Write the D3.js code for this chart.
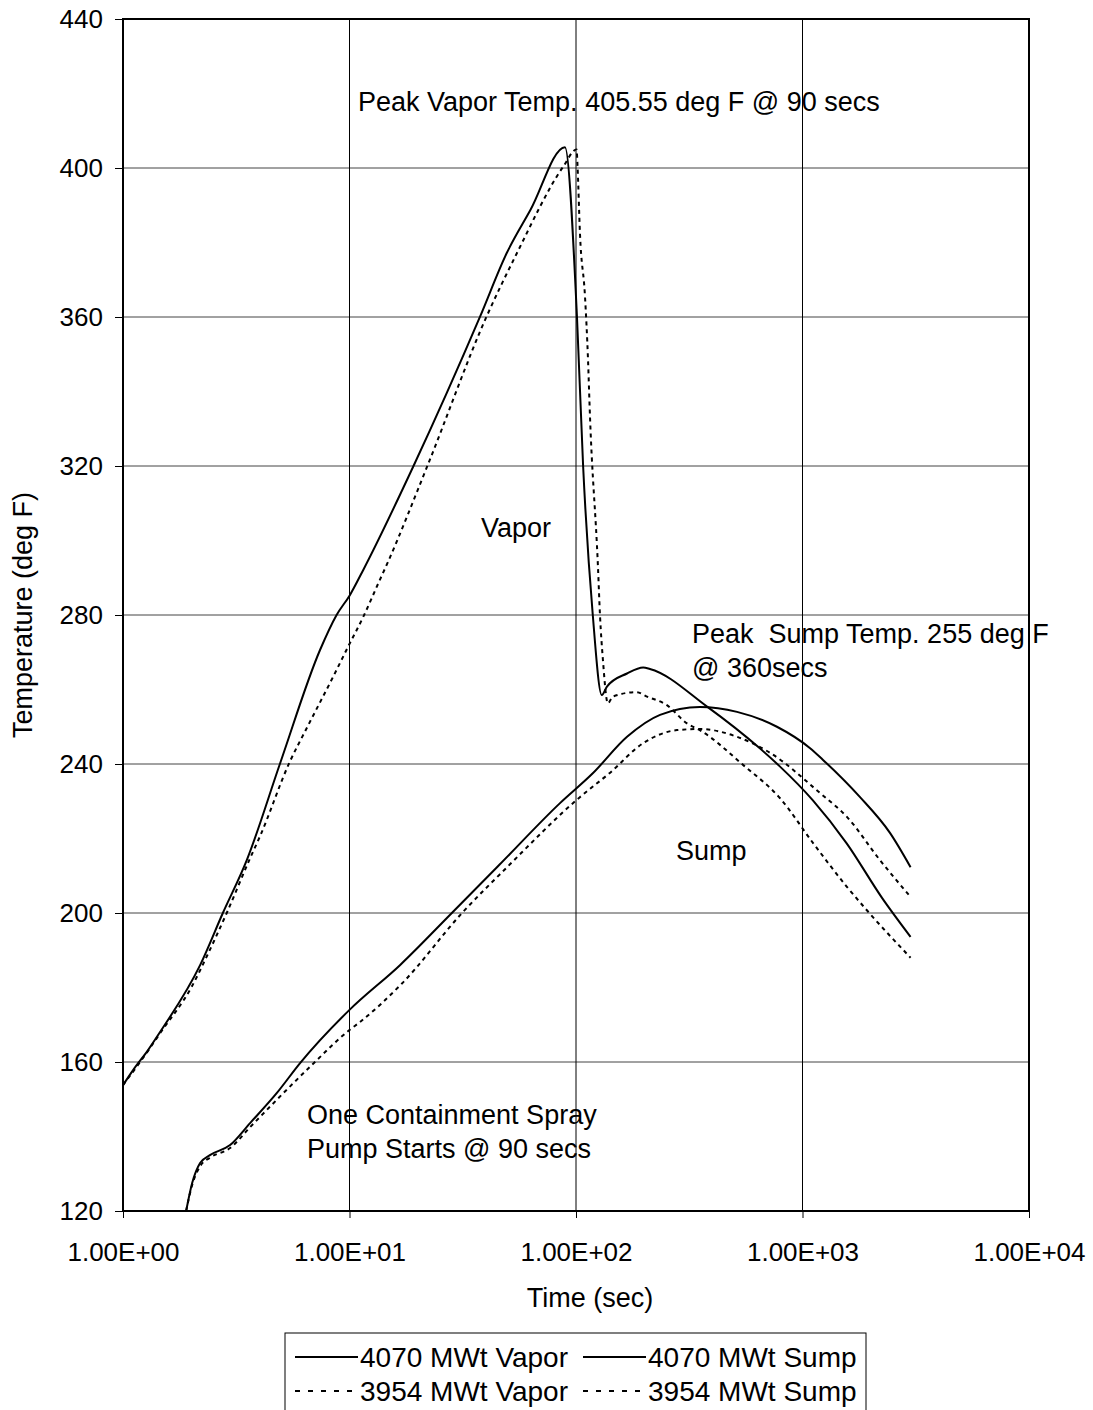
<!DOCTYPE html>
<html>
<head>
<meta charset="utf-8">
<script src="https://cdn.jsdelivr.net/npm/d3@7"></script>
<style>
  html, body { margin: 0; padding: 0; background: #fff; }
  svg { display: block; }
  text { font-family: "Liberation Sans", Arial, sans-serif; fill: #000; }
</style>
</head>
<body>
<svg id="chart" width="1093" height="1410"></svg>
<script>
// Containment temperature response, time (sec) vs temperature (deg F)
const vapor4070 = [
  [1, 153.8], [1.11, 157.9], [1.29, 163.2], [1.46, 168.1], [2.19, 186], [2.76, 200],
  [3.52, 214.2], [4.94, 240.2], [7.41, 270.6], [8.77, 280], [10.05, 285.4], [11.5, 292.1],
  [19.1, 319.8], [37.7, 360.1], [49.4, 377.1], [62.9, 388.7], [89.4, 405.6], [101, 360],
  [107.5, 320], [118.6, 280], [130, 258.5], [137, 260.8], [168, 264.3], [198, 265.9],
  [212, 265.5], [379, 255.4], [648, 244.2], [796, 239.3], [1109, 230.3], [1567, 218.7],
  [2248, 204], [3000, 193.6]
];
const vapor3954 = [
  [1, 153.8], [1.29, 163], [1.457, 167.7], [2.01, 180.2], [2.38, 189.2], [2.87, 200],
  [3.64, 214.7], [4.02, 220.5], [5.45, 240.6], [6.47, 249.6], [8.48, 263.5], [9.86, 271.5],
  [11.5, 279.5], [13.4, 288.5], [14.8, 294.3], [22, 319.8], [40.2, 360], [54.8, 377.1],
  [87.7, 400.3], [100.6, 405], [101.6, 400.3], [104.1, 382.5], [109.6, 365.4], [113, 348.5],
  [115, 335], [125, 293], [127.6, 280], [131.5, 267.9], [138.3, 256.3], [145.4, 258.1],
  [185, 259.3], [205.8, 258.1], [252, 255.8], [309, 250.9], [352, 249.1], [548, 239.7],
  [796, 230.8], [1116, 218.7], [1567, 207.1], [1920, 200.8], [3000, 188]
];
const sump4070 = [
  [1.9, 120], [2.02, 127.5], [2.19, 132.9], [2.42, 135], [2.97, 137.7], [3.64, 143.6],
  [4.78, 151.7], [6.05, 159.7], [10, 174], [16.7, 186], [28.3, 200], [46, 213],
  [85, 229.5], [118.6, 237.5], [168, 247.3], [235, 253.2], [352, 255.3], [514, 254],
  [771, 250], [1077, 244.3], [1232, 241.1], [1795, 231.1], [2433, 221.5], [3000, 212.3]
];
const sump3954 = [
  [1.9, 120], [2.02, 127], [2.19, 132], [2.42, 134.3], [2.97, 136.9], [3.64, 142.5],
  [6.69, 158.7], [10, 168.6], [11.1, 170.7], [17, 181], [31.4, 200], [50, 212.5],
  [104, 231.1], [141, 237.6], [198, 245.6], [279, 249.1], [352, 249.4], [514, 247.3],
  [719, 243], [1195, 232.2], [1571, 225.8], [2198, 214.2], [3000, 204.3]
];
const yTicks = [120, 160, 200, 240, 280, 320, 360, 400, 440];
const xTicks = [1, 10, 100, 1000, 10000];
const xTickLabels = ["1.00E+00", "1.00E+01", "1.00E+02", "1.00E+03", "1.00E+04"];
const seriesNames = ["4070 MWt Vapor", "4070 MWt Sump", "3954 MWt Vapor", "3954 MWt Sump"];

const svg = d3.select("#chart");
const plotL = 123, plotR = 1029, plotT = 19, plotB = 1211;
const FONT = "27px";

const x = d3.scaleLog().domain([1, 1e4]).range([plotL, plotR]);
const y = d3.scaleLinear().domain([120, 440]).range([plotB, plotT]);

// gridlines
svg.append("g").selectAll("line").data(yTicks.slice(1, -1)).join("line")
  .attr("x1", plotL).attr("x2", plotR)
  .attr("y1", d => y(d)).attr("y2", d => y(d))
  .attr("stroke", "#444").attr("stroke-width", 1);
svg.append("g").selectAll("line").data(xTicks.slice(1, -1)).join("line")
  .attr("y1", plotT).attr("y2", plotB)
  .attr("x1", d => x(d)).attr("x2", d => x(d))
  .attr("stroke", "#000").attr("stroke-width", 1);

// axes
const yAxis = d3.axisLeft(y).tickValues(yTicks).tickSize(8).tickPadding(12);
const gy = svg.append("g").attr("transform", `translate(${plotL},0)`).call(yAxis);
gy.select(".domain").remove();
gy.selectAll("line").attr("stroke", "#000");
gy.selectAll("text").style("font-size", "26px").style("font-family", "Liberation Sans, Arial, sans-serif");

const xAxis = d3.axisBottom(x).tickValues(xTicks).tickFormat((d, i) => xTickLabels[i]).tickSize(7).tickPadding(25);
const gx = svg.append("g").attr("transform", `translate(0,${plotB})`).call(xAxis);
gx.select(".domain").remove();
gx.selectAll("line").attr("stroke", "#000");
gx.selectAll("text").style("font-size", "26px").style("font-family", "Liberation Sans, Arial, sans-serif");

// plot frame
svg.append("rect").attr("x", plotL).attr("y", plotT)
  .attr("width", plotR - plotL).attr("height", plotB - plotT)
  .attr("fill", "none").attr("stroke", "#000").attr("stroke-width", 2);

// curves
const line = d3.line().x(d => x(d[0])).y(d => y(d[1])).curve(d3.curveMonotoneX);
const curves = [
  { data: vapor4070, dash: null },
  { data: sump4070, dash: null },
  { data: vapor3954, dash: "4,4" },
  { data: sump3954, dash: "4,4" }
];
svg.append("g").selectAll("path").data(curves).join("path")
  .attr("d", d => line(d.data))
  .attr("fill", "none").attr("stroke", "#000").attr("stroke-width", 2)
  .attr("stroke-dasharray", d => d.dash);

// annotations
const notes = [
  { t: "Peak Vapor Temp. 405.55 deg F @ 90 secs", x: 358, y: 111 },
  { t: "Vapor", x: 481, y: 537 },
  { t: "Peak  Sump Temp. 255 deg F", x: 692, y: 643 },
  { t: "@ 360secs", x: 692, y: 677 },
  { t: "Sump", x: 676, y: 860 },
  { t: "One Containment Spray", x: 307, y: 1124 },
  { t: "Pump Starts @ 90 secs", x: 307, y: 1158 }
];
svg.append("g").selectAll("text").data(notes).join("text")
  .attr("x", d => d.x).attr("y", d => d.y)
  .style("font-size", FONT).style("white-space", "pre")
  .text(d => d.t);

// axis titles
svg.append("text").attr("x", 590).attr("y", 1307).attr("text-anchor", "middle")
  .style("font-size", FONT).text("Time (sec)");
svg.append("text").attr("transform", "translate(32,615) rotate(-90)").attr("text-anchor", "middle")
  .style("font-size", FONT).text("Temperature (deg F)");

// legend
const lg = svg.append("g");
lg.append("rect").attr("x", 285).attr("y", 1333).attr("width", 581).attr("height", 100)
  .attr("fill", "#fff").attr("stroke", "#000").attr("stroke-width", 1);
const legendItems = [
  { name: seriesNames[0], dash: null, col: 0, row: 0 },
  { name: seriesNames[1], dash: null, col: 1, row: 0 },
  { name: seriesNames[2], dash: "5,8", col: 0, row: 1 },
  { name: seriesNames[3], dash: "5,8", col: 1, row: 1 }
];
const colX = [295, 583], rowY = [1357, 1391];
const li = lg.selectAll("g").data(legendItems).join("g")
  .attr("transform", d => `translate(${colX[d.col]},${rowY[d.row]})`);
li.append("line").attr("x1", 0).attr("x2", 63).attr("y1", 0).attr("y2", 0)
  .attr("stroke", "#000").attr("stroke-width", 2).attr("stroke-dasharray", d => d.dash);
li.append("text").attr("x", 65).attr("y", 10).style("font-size", "28px").text(d => d.name);
</script>
</body>
</html>
